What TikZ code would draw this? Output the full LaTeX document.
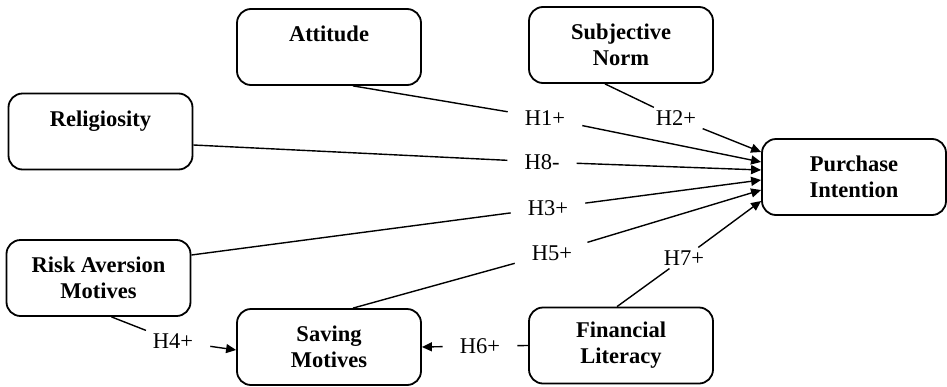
\documentclass[tikz,border=0pt]{standalone}
\usepackage{fontspec}
\setmainfont{Liberation Serif}
\usetikzlibrary{arrows.meta,calc}
\begin{document}
\begin{tikzpicture}[x=1pt,y=-1pt,
  box/.style={draw, line width=1.8pt, rounded corners=14pt, minimum width=184pt, minimum height=76pt, align=center, font=\fontsize{22.5}{26}\selectfont\bfseries, inner sep=0pt},
  hyp/.style={font=\fontsize{22.5}{26}\selectfont, inner xsep=17pt, inner ysep=3pt},
  conn/.style={line width=1.4pt},
  arr/.style={conn, -{Triangle[length=10pt,width=9pt]}}]
\useasboundingbox (0,0) rectangle (947,386);
% boxes
\node[box] (att) at (329,47) {Attitude\\\mbox{}};
\node[box] (rel) at (100.5,131.5) {Religiosity\\\mbox{}};
\node[box] (sn) at (621,45) {Subjective\\Norm};
\node[box] (pi) at (854,177) {Purchase\\Intention};
\node[box] (ram) at (98.5,278) {Risk Aversion\\Motives};
\node[box] (sav) at (329,347) {Saving\\Motives};
\node[box] (fin) at (621,345.5) {Financial\\Literacy};
% hypothesis labels
\node[hyp] (h1) at (545,118) {H1+};
\node[hyp] (h2) at (676,118) {H2+};
\node[hyp] (h8) at (542,162) {H8-};
\node[hyp] (h3) at (548,208) {H3+};
\node[hyp] (h5) at (552,253) {H5+};
\node[hyp] (h7) at (684,258) {H7+};
\node[hyp] (h4) at (173,341) {H4+};
\node[hyp] (h6) at (480,346) {H6+};
% connectors
\draw[conn] ([xshift=24pt]att.south) -- (h1);
\draw[arr] (h1) -- ([yshift=15pt]pi.west);
\draw[conn] ([xshift=-16pt]sn.south) -- (h2);
\draw[arr] (h2) -- ([yshift=25pt]pi.west);
\draw[conn] ([yshift=-13.5pt]rel.east) -- (h8);
\draw[arr] (h8) -- ([yshift=7pt]pi.west);
\draw[conn] ([yshift=23pt]ram.east) -- (h3);
\draw[arr] (h3) -- ([yshift=-3pt]pi.west);
\draw[conn] ([xshift=24pt]sav.north) -- (h5);
\draw[arr] (h5) -- ([yshift=-13pt]pi.west);
\draw[conn] ([xshift=-4pt]fin.north) -- (h7);
\draw[arr] (h7) -- ([yshift=-24pt]pi.west);
\draw[conn] ([xshift=13pt]ram.south) -- (h4);
\draw[arr] (h4) -- ([yshift=-3pt]sav.west);
\draw[conn] (fin.west) -- (h6);
\draw[arr] (h6) -- (sav.east);
\end{tikzpicture}
\end{document}
